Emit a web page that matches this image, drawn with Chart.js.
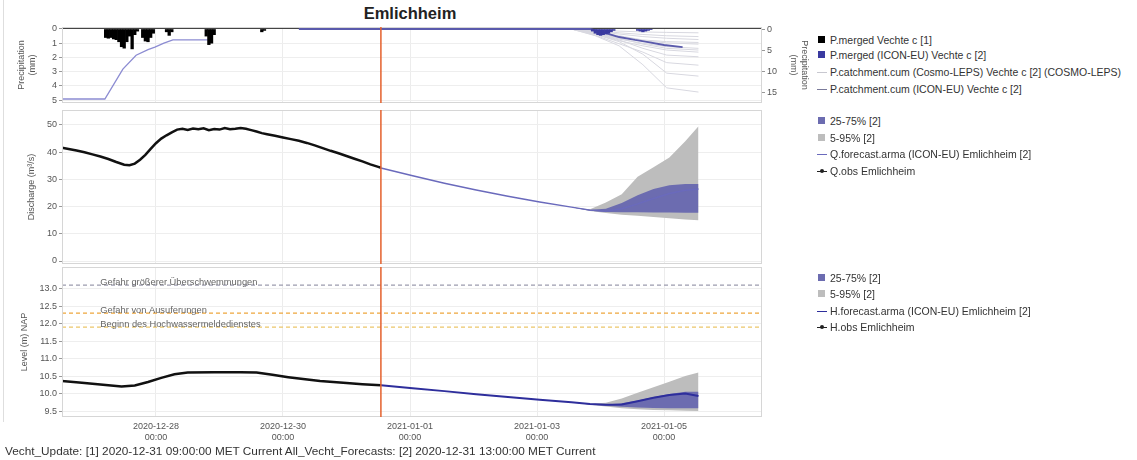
<!DOCTYPE html>
<html>
<head>
<meta charset="utf-8">
<script src="https://cdn.jsdelivr.net/npm/chart.js@4.4.1/dist/chart.umd.min.js"></script>
<style>
body{margin:0;background:#fff;font-family:"Liberation Sans",Arial,sans-serif;}
#wrap{position:relative;width:1137px;height:460px;overflow:hidden;}
#wrap canvas{position:absolute;left:0;}
.title{position:absolute;left:0;width:820px;top:4px;text-align:center;font-weight:bold;font-size:16.5px;color:#222;}
.caption{position:absolute;left:5px;top:444px;font-size:11.8px;color:#333;white-space:nowrap;}
.frame{position:absolute;left:3px;top:0;height:422px;border-left:1px solid #dedede;}
.lg{position:absolute;left:817px;font-size:10.5px;color:#333;white-space:nowrap;line-height:12px;height:12px;}
.lg i{display:inline-block;width:10px;height:12px;vertical-align:top;margin-right:3px;position:relative;}
.lg i.box:after{content:"";position:absolute;left:1px;top:2px;width:7px;height:7px;background:var(--c);}
.lg i.ln:after{content:"";position:absolute;left:0;top:6px;width:10px;height:1px;background:var(--c);}
.lg i.dot:after{content:"";position:absolute;left:0;top:6px;width:10px;height:1px;background:var(--c);}
.lg i.dot:before{content:"";position:absolute;left:3px;top:4px;width:4px;height:4px;border-radius:2px;background:var(--c);}
</style>
</head>
<body>
<div id="wrap">
  <div class="frame"></div>
  <div class="title">Emlichheim</div>
  <canvas id="cP" width="810" height="100" style="top:15px"></canvas>
  <canvas id="cQ" width="810" height="174" style="top:100px"></canvas>
  <canvas id="cH" width="810" height="195" style="top:257px"></canvas>
  <div class="caption">Vecht_Update: [1] 2020-12-31 09:00:00 MET Current All_Vecht_Forecasts: [2] 2020-12-31 13:00:00 MET Current</div>
</div>
<script>
// time axis: hours since 2020-12-26 00:00
const xMin = 12.5, xMax = 277;
const nowHour = 133; // 2020-12-31 13:00
const tickHours = [48, 96, 144, 192, 240];
const tickLabels = [['2020-12-28','00:00'],['2020-12-30','00:00'],['2021-01-01','00:00'],['2021-01-03','00:00'],['2021-01-05','00:00']];

// precipitation, observed hourly (mm)
const obsPrecipHours = [29,30,31,32,33,34,35,36,37,38,39,40,41,43,44,45,46,47,52,53,54,67,68,69,70,88,89];
const obsPrecipMm    = [0.6,0.65,0.6,0.7,0.75,0.9,1.25,1.35,0.9,0.5,1.4,0.4,0.15,0.6,0.85,0.9,0.6,0.3,0.2,0.45,0.2,0.5,1.1,1.0,0.4,0.2,0.1];
// precipitation, ICON-EU forecast hourly (mm)
const fcPrecipHours = [213,214,215,216,217,218,219,220,221,230,231,232,233,234,235];
const fcPrecipMm    = [0.15,0.3,0.4,0.45,0.4,0.35,0.3,0.2,0.1,0.1,0.15,0.2,0.15,0.1,0.05];
// observed catchment precipitation curve (left axis)
const obsCumHours = [12.5,28.7,35.5,40.5,45,47.6,51,54.4,67.6];
const obsCumMm    = [4.93,4.93,2.82,1.85,1.45,1.27,1.0,0.77,0.77];
// cumulative catchment precipitation, ICON-EU (right axis)
const iconCumHours = [102,212,216,223,229,234,240,247];
const iconCumMm    = [0,0,0.6,1.9,2.6,3.1,3.8,4.3];
// cumulative catchment precipitation, COSMO-LEPS members (right axis)
const lepsHours = [205,214,223,232,241,253];
const lepsM1  = [0,0.2,0.5,0.7,0.8,0.9];
const lepsM2  = [0,0.5,1.2,1.8,2.2,2.5];
const lepsM3  = [0,0.8,2.0,2.8,3.3,3.6];
const lepsM4  = [0,1.0,2.4,3.4,4.2,4.6];
const lepsM5  = [0,1.2,2.8,4.0,5.0,5.5];
const lepsM6  = [0,0.6,1.6,2.6,3.0,3.2];
const lepsM7  = [0,1.5,3.5,5.5,8.0,8.6];
const lepsM8  = [0,1.3,3.0,6.0,10.5,11.2];
const lepsM9  = [0,1.6,4.0,8.5,14.0,15.0];
const lepsM10 = [0,0.3,0.9,1.3,1.6,1.8];
const lepsM11 = [0,0.9,2.2,3.6,4.6,5.0];
const lepsM12 = [0,1.1,2.6,4.6,6.2,6.6];

// discharge (m3/s)
const qObsHours = [12.5,15,18,21,24,27,30,33,36,38,40,42,44,46,48,50,52,54,56,58,60,62,64,66,68,70,72,74,76,78,80,82,84,86,88,90,93,96,99,102,105,108,111,114,117,120,123,126,129,132,133];
const qObs      = [41.6,41.2,40.6,40.0,39.2,38.4,37.5,36.4,35.4,35.2,35.8,37.2,39.0,41.2,43.3,45.0,46.2,47.3,48.3,48.6,48.2,48.7,48.4,48.8,48.1,48.5,48.3,48.9,48.4,48.6,48.9,48.6,48.1,47.6,47.0,46.6,46.0,45.4,44.8,44.2,43.4,42.5,41.5,40.5,39.6,38.6,37.6,36.6,35.5,34.6,34.3];
const qFcHours = [133,145,157,169,181,193,205,212,218,224,230,236,242,248,253];
const qFc      = [34.2,31.3,28.6,26.1,23.8,21.7,19.8,18.7,18.3,19.2,21.0,23.0,24.8,26.0,26.5];
const bandHours = [205,212,218,224,230,236,242,248,253];
const q95 = [19.8,19.0,21.5,24.5,31.0,34.5,38.0,44.0,49.5];
const q05 = [19.8,18.4,17.6,17.0,16.6,16.2,15.7,15.3,15.0];
const q75 = [19.8,18.8,19.2,21.3,24.2,26.5,27.8,28.3,28.3];
const q25 = [19.8,18.5,18.0,17.9,17.9,17.8,17.8,17.7,17.7];

// level (m NAP)
const hObsHours = [12.5,20,28,35,40,45,50,55,60,70,80,86,92,98,102,110,120,126,133];
const hObs      = [10.36,10.31,10.25,10.2,10.23,10.33,10.45,10.55,10.6,10.61,10.61,10.6,10.54,10.47,10.43,10.36,10.3,10.27,10.24];
const hFcHours = [133,145,157,169,181,193,205,212,218,224,230,236,242,248,253];
const hFc      = [10.24,10.15,10.07,9.98,9.9,9.82,9.75,9.7,9.68,9.69,9.78,9.88,9.96,10.0,9.93];
const h95 = [9.75,9.71,9.74,9.86,10.02,10.18,10.34,10.5,10.6];
const h05 = [9.75,9.68,9.63,9.58,9.55,9.53,9.52,9.51,9.5];
const h75 = [9.75,9.7,9.69,9.72,9.8,9.9,9.99,10.05,10.05];
const h25 = [9.75,9.69,9.65,9.62,9.6,9.59,9.58,9.58,9.58];

const thresholdNames  = ['Gefahr größerer Überschwemmungen','Gefahr von Ausuferungen','Beginn des Hochwassermeldedienstes'];
const thresholdLevels = [13.1, 12.3, 11.9];
const thresholdColors = ['#9c9cae','#eea63c','#ecc66a'];

const zip = (xs, ys) => xs.map((x, i) => ({x: x, y: ys[i]}));
const fixedTicks = vals => s => { s.ticks = vals.map(v => ({value: v})); };

Chart.defaults.font.family = '"Liberation Sans", Arial, sans-serif';
Chart.defaults.font.size = 9;
Chart.defaults.color = '#555';
Chart.defaults.animation = false;
Chart.defaults.plugins.legend.display = false;
Chart.defaults.plugins.tooltip.enabled = false;

const panelDeco = {
  id: 'panelDeco',
  afterDatasetsDraw(chart) {
    const {ctx, chartArea: a, scales} = chart;
    ctx.save();
    ctx.strokeStyle = '#d6d6d6';
    ctx.lineWidth = 1;
    ctx.strokeRect(a.left + 0.5, a.top + 0.5, a.width - 1, a.height - 1);
    const x = scales.x.getPixelForValue(nowHour);
    ctx.strokeStyle = '#e4602c';
    ctx.lineWidth = 1.5;
    ctx.beginPath();
    ctx.moveTo(x, a.top);
    ctx.lineTo(x, a.bottom);
    ctx.stroke();
    ctx.restore();
  }
};

const thresholdText = {
  id: 'thresholdText',
  afterDatasetsDraw(chart) {
    const {ctx, scales} = chart;
    ctx.save();
    ctx.font = '9.3px "Liberation Sans", Arial, sans-serif';
    ctx.fillStyle = '#666';
    ctx.textBaseline = 'bottom';
    thresholdNames.forEach((name, i) => {
      const y = scales.y.getPixelForValue(thresholdLevels[i]);
      ctx.fillText(name, scales.x.getPixelForValue(27), y + 2);
    });
    ctx.restore();
  }
};

function xScale(showLabels) {
  return {
    type: 'linear', min: xMin, max: xMax, offset: false,
    afterBuildTicks: fixedTicks(tickHours),
    afterFit: s => { s.height = showLabels ? 30 : 0; },
    grid: {color: '#ececec', drawTicks: false, offset: false},
    border: {display: false},
    ticks: {display: showLabels, autoSkip: false, maxRotation: 0, padding: 4,
            callback: (v, i) => tickLabels[i]}
  };
}

function yLeft(min, max, ticks, title, titlePad, fmt) {
  return {
    position: 'left', min: min, max: max,
    afterBuildTicks: fixedTicks(ticks),
    afterFit: s => { s.width = 62; },
    grid: {color: '#eeeeee', tickLength: 3, tickColor: '#999'},
    border: {display: false},
    ticks: {padding: 2, callback: fmt || (v => v)},
    title: {display: true, text: title, color: '#555', padding: {top: titlePad, bottom: 0}}
  };
}

const line = (data, color, width, axis) => ({type: 'line', data: data, borderColor: color,
  borderWidth: width, pointRadius: 0, fill: false, yAxisID: axis || 'y', tension: 0});
const band = (data, color, fill) => ({type: 'line', data: data, borderWidth: 0, pointRadius: 0,
  backgroundColor: color, fill: fill, yAxisID: 'y'});

// ---- precipitation panel
const lepsMembers = [lepsM1, lepsM2, lepsM3, lepsM4, lepsM5, lepsM6, lepsM7, lepsM8, lepsM9, lepsM10, lepsM11, lepsM12];
const precipY = yLeft(-0.14, 5.21, [0,1,2,3,4,5], ['Precipitation','(mm)'], 16);
precipY.reverse = true;
precipY.grid.color = c => (c.tick && c.tick.value === 0) ? '#444' : '#eeeeee';

new Chart(document.getElementById('cP'), {
  type: 'bar',
  data: {datasets: [
    {type: 'bar', data: zip(obsPrecipHours, obsPrecipMm), backgroundColor: '#000', grouped: false,
     barPercentage: 1, categoryPercentage: 1, yAxisID: 'y'},
    {type: 'bar', data: zip(fcPrecipHours, fcPrecipMm), backgroundColor: '#3a3aa0', grouped: false,
     barPercentage: 1, categoryPercentage: 1, yAxisID: 'y'},
    line(zip(obsCumHours, obsCumMm), '#8c8cd2', 1.3),
    line(zip(iconCumHours, iconCumMm), '#5a5aac', 1.8, 'y2'),
    ...lepsMembers.map(m => line(zip(lepsHours, m), '#d8d8e0', 1, 'y2'))
  ]},
  options: {
    responsive: false,
    layout: {padding: {top: 12, bottom: 12, left: 0, right: 0}},
    scales: {
      x: xScale(false),
      y: precipY,
      y2: {
        position: 'right', reverse: true, min: -0.48, max: 17.6,
        afterBuildTicks: fixedTicks([0,5,10,15]),
        afterFit: s => { s.width = 48; },
        grid: {drawOnChartArea: false, tickLength: 3, tickColor: '#999'},
        border: {display: false},
        ticks: {padding: 2},
        title: {display: true, text: ['Precipitation','(mm)'], color: '#555', padding: {top: 0, bottom: 6}}
      }
    }
  },
  plugins: [panelDeco]
});

// ---- discharge panel
new Chart(document.getElementById('cQ'), {
  type: 'line',
  data: {datasets: [
    line(zip(qObsHours, qObs), '#111', 2.5),
    line(zip(qFcHours, qFc), '#6a6abc', 1.5),
    band(zip(bandHours, q75), '#6c6cb0', '+1'),
    band(zip(bandHours, q25), '#6c6cb0', false),
    band(zip(bandHours, q95), '#bdbdbd', '+1'),
    band(zip(bandHours, q05), '#bdbdbd', false)
  ]},
  options: {
    responsive: false,
    layout: {padding: {top: 10, bottom: 10, left: 0, right: 48}},
    scales: {
      x: xScale(false),
      y: yLeft(-1.1, 55.5, [0,10,20,30,40,50], 'Discharge (m³/s)', 26)
    }
  },
  plugins: [panelDeco]
});

// ---- level panel
new Chart(document.getElementById('cH'), {
  type: 'line',
  data: {datasets: [
    line(zip(hObsHours, hObs), '#111', 2.5),
    line(zip(hFcHours, hFc), '#2e2e9c', 2),
    band(zip(bandHours, h75), '#6c6cb0', '+1'),
    band(zip(bandHours, h25), '#6c6cb0', false),
    band(zip(bandHours, h95), '#bdbdbd', '+1'),
    band(zip(bandHours, h05), '#bdbdbd', false),
    ...thresholdLevels.map((lv, i) => Object.assign(line(zip([xMin, xMax], [lv, lv]), thresholdColors[i], 1.2),
      {borderDash: [4, 3]}))
  ]},
  options: {
    responsive: false,
    layout: {padding: {top: 10, bottom: 5, left: 0, right: 48}},
    scales: {
      x: xScale(true),
      y: yLeft(9.33, 13.62, [9.5,10,10.5,11,11.5,12,12.5,13], 'Level (m) NAP', 19, v => v.toFixed(1))
    }
  },
  plugins: [panelDeco, thresholdText]
});

// ---- legends
const legends = [
  {tops: [34, 49, 66, 83], items: [
    ['box', '#000', 'P.merged Vechte c [1]'],
    ['box', '#3a3aa0', 'P.merged (ICON-EU) Vechte c [2]'],
    ['ln', '#c8c8d0', 'P.catchment.cum (Cosmo-LEPS) Vechte c [2]  (COSMO-LEPS)'],
    ['ln', '#7a7a9a', 'P.catchment.cum (ICON-EU) Vechte c [2]']]},
  {tops: [115, 132, 148, 165], items: [
    ['box', '#6c6cb0', '25-75% [2]'],
    ['box', '#bdbdbd', '5-95% [2]'],
    ['ln', '#6a6abc', 'Q.forecast.arma (ICON-EU) Emlichheim [2]'],
    ['dot', '#222', 'Q.obs Emlichheim']]},
  {tops: [272, 288, 305, 321], items: [
    ['box', '#6c6cb0', '25-75% [2]'],
    ['box', '#bdbdbd', '5-95% [2]'],
    ['ln', '#2e2e9c', 'H.forecast.arma (ICON-EU) Emlichheim [2]'],
    ['dot', '#222', 'H.obs Emlichheim']]}
];
const wrap = document.getElementById('wrap');
legends.forEach(g => g.items.forEach((it, i) => {
  const d = document.createElement('div');
  d.className = 'lg';
  d.style.top = g.tops[i] + 'px';
  const m = document.createElement('i');
  m.className = it[0];
  m.style.setProperty('--c', it[1]);
  d.appendChild(m);
  d.appendChild(document.createTextNode(it[2]));
  wrap.appendChild(d);
}));
</script>
</body>
</html>
